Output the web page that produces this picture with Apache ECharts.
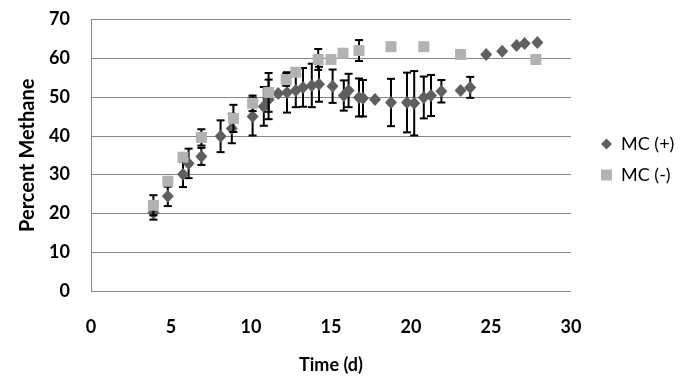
<!DOCTYPE html>
<html>
<head>
<meta charset="utf-8">
<script src="https://cdn.jsdelivr.net/npm/echarts@6/dist/echarts.min.js"></script>
<style>
  html, body { margin: 0; padding: 0; background: #fff; }
  #chart { width: 682px; height: 383px; }
</style>
</head>
<body>
<div id="chart"></div>
<script>
// MC (+) : time, percent methane, error (+/-)
var plusX = [3.9, 4.8, 5.75, 6.1, 6.9, 8.1, 8.8, 10.1, 10.8, 11.1, 11.7, 12.25, 12.8, 13.25, 13.8, 14.25, 15.1, 15.8, 16.1, 16.75, 17.0, 17.75, 18.75, 19.75, 20.2, 20.8, 21.25, 21.9, 23.1, 23.7, 24.7, 25.7, 26.6, 27.1, 27.9];
var plusY = [20.2, 24.4, 30.1, 32.9, 34.7, 39.9, 41.9, 45.0, 47.6, 49.4, 50.9, 51.2, 51.7, 52.5, 53.0, 53.3, 52.8, 50.4, 51.7, 49.9, 49.7, 49.4, 48.6, 48.6, 48.4, 49.9, 50.4, 51.5, 51.7, 52.5, 61.0, 61.8, 63.3, 63.8, 64.1];
var plusErr = [1.8, 2.5, 3.3, 3.8, 2.2, 4.1, 3.8, 4.9, 5.0, 5.1, 0, 5.2, 4.3, 5.0, 5.6, 4.5, 4.3, 3.9, 4.3, 4.9, 4.7, 0, 6.1, 7.7, 8.3, 5.4, 5.3, 2.9, 0, 2.7, 0, 0, 0, 0, 0];

// MC (-)
var minusX = [3.9, 4.8, 5.75, 6.9, 8.9, 10.1, 11.1, 12.2, 12.8, 14.2, 15.0, 15.75, 16.75, 18.75, 20.8, 23.1, 27.8];
var minusY = [22.1, 28.3, 34.5, 39.6, 44.5, 48.4, 51.2, 54.5, 56.4, 59.7, 59.7, 61.3, 62.0, 63.0, 63.0, 61.0, 59.7];
var minusErr = [2.6, 0, 0, 2.1, 3.5, 2.0, 5.0, 1.6, 0, 2.7, 0, 0, 2.7, 0, 0, 0, 0];

var seriesNames = ['MC (+)', 'MC (-)'];

function zip(xs, ys, es) {
    return xs.map(function (x, i) { return es ? [x, ys[i], es[i]] : [x, ys[i]]; });
}

// vertical error bar with caps, positioned through the axes
function errorBars(params, api) {
    var x = api.value(0), y = api.value(1), e = api.value(2);
    if (!e) return;
    var top = api.coord([x, y + e]);
    var bot = api.coord([x, y - e]);
    var st = { stroke: '#000', lineWidth: 2 };
    return {
        type: 'group',
        children: [
            { type: 'line', shape: { x1: top[0], y1: top[1], x2: bot[0], y2: bot[1] }, style: st },
            { type: 'line', shape: { x1: top[0] - 4, y1: top[1], x2: top[0] + 4, y2: top[1] }, style: st },
            { type: 'line', shape: { x1: bot[0] - 4, y1: bot[1], x2: bot[0] + 4, y2: bot[1] }, style: st }
        ]
    };
}

var font = 'Lato, "Liberation Sans", sans-serif';
var myChart = echarts.init(document.getElementById('chart'));

myChart.setOption({
    animation: false,
    textStyle: { fontFamily: font },
    grid: { left: 91, right: 111, top: 19.5, bottom: 92 },
    legend: {
        orient: 'vertical',
        left: 596,
        top: 130,
        itemGap: 13,
        itemWidth: 11,
        itemHeight: 11,
        textStyle: { fontSize: 18, color: '#000', fontFamily: font, padding: [0, 0, 0, 4] },
        data: [
            { name: seriesNames[0], icon: 'diamond' },
            { name: seriesNames[1], icon: 'rect' }
        ]
    },
    xAxis: {
        type: 'value',
        min: 0, max: 30, interval: 5,
        name: 'Time (d)',
        nameLocation: 'middle',
        nameGap: 65,
        nameTextStyle: { fontSize: 18, fontWeight: 'bold', color: '#000', fontFamily: font },
        axisLine: { show: false },
        axisTick: { show: false },
        splitLine: { show: false },
        axisLabel: { fontSize: 18, fontWeight: 'bold', color: '#000', margin: 27 }
    },
    yAxis: {
        type: 'value',
        min: 0, max: 70, interval: 10,
        name: 'Percent Methane',
        nameLocation: 'middle',
        nameGap: 53,
        nameTextStyle: { fontSize: 20, fontWeight: 'bold', color: '#000', fontFamily: font },
        axisLine: { show: true, lineStyle: { color: '#868686', width: 1 } },
        axisTick: { show: false },
        splitLine: { lineStyle: { color: '#868686', width: 1 } },
        axisLabel: { fontSize: 18, fontWeight: 'bold', color: '#000', margin: 21 }
    },
    series: [
        {
            type: 'custom',
            name: 'plusErr',
            renderItem: errorBars,
            data: zip(plusX, plusY, plusErr),
            encode: { x: 0, y: 1 },
            z: 2
        },
        {
            type: 'scatter',
            name: seriesNames[0],
            symbol: 'diamond',
            symbolSize: [12, 13],
            itemStyle: { color: '#5f5f5f', opacity: 1 },
            data: zip(plusX, plusY),
            z: 3
        },
        {
            type: 'custom',
            name: 'minusErr',
            renderItem: errorBars,
            data: zip(minusX, minusY, minusErr),
            encode: { x: 0, y: 1 },
            z: 4
        },
        {
            type: 'scatter',
            name: seriesNames[1],
            symbol: 'rect',
            symbolSize: 11,
            itemStyle: { color: '#b2b2b2', opacity: 1 },
            data: zip(minusX, minusY),
            z: 5
        }
    ]
});
</script>
</body>
</html>
